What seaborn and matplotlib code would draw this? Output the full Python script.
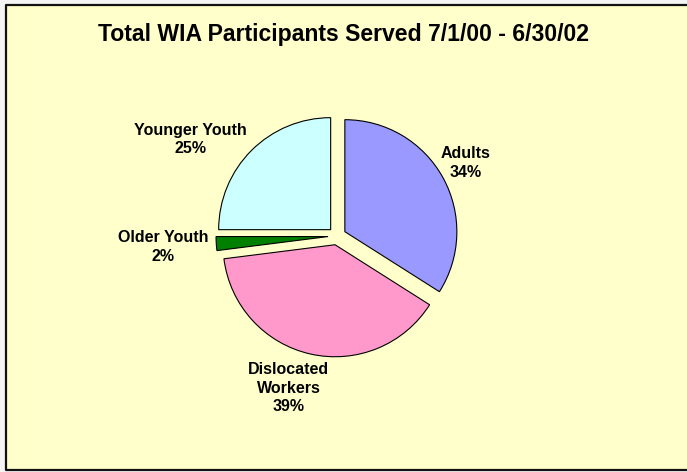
import matplotlib
matplotlib.use('Agg')
import matplotlib.pyplot as plt
import seaborn as sns
from matplotlib.patches import Rectangle
from matplotlib.lines import Line2D

categories = ['Adults', 'Dislocated\nWorkers', 'Older Youth', 'Younger Youth']
shares = [34, 39, 2, 25]
colors = ['#9999FF', '#FF99CC', '#008000', '#CCFFFF']
title = 'Total WIA Participants Served 7/1/00 - 6/30/02'
# label centres in pie units (radius = 1)
label_pos = [(1.15, 0.65), (-0.43, -1.36), (-1.55, -0.10), (-1.31, 0.86)]

sns.set_theme(style='white')
plt.rcParams['font.family'] = ['Liberation Sans', 'DejaVu Sans']
plt.rcParams['text.color'] = 'black'

W, H = 687, 472
fig = plt.figure(figsize=(W / 100, H / 100), dpi=100)
fig.patch.set_facecolor('#F4F4F4')
fig.patch.set_edgecolor('none')
fig.patch.set_linewidth(0)

# chart area: yellow fill, black frame on left / top / bottom (right edge cut off)
x0, x1, y0, y1 = 6 / W, 1.1, 2.5 / H, 1 - 5 / H
fig.patches.append(Rectangle((x0, y0), x1 - x0, y1 - y0, transform=fig.transFigure,
                             facecolor='#FFFFCC', edgecolor='none', zorder=-5))
fig.lines.append(Line2D([x1, x0, x0, x1], [y1, y1, y0, y0], transform=fig.transFigure,
                        color='#111111', lw=1.6, zorder=-4))

# pie centre at (337, 236) px, radius 112 px
cx, cy, half = 337, 236, 140
ax = fig.add_axes([(cx - half) / W, (H - cy - half) / H, 2 * half / W, 2 * half / H])
ax.set_zorder(2)
ax.set_facecolor('none')
ax.pie(shares, colors=colors, startangle=90, counterclock=False,
       explode=[0.08] * len(shares),
       wedgeprops=dict(edgecolor='black', linewidth=0.8))
ax.set_xlim(-1.25, 1.25)
ax.set_ylim(-1.25, 1.25)
ax.set_aspect('equal')
ax.axis('off')

for name, val, (x, y) in zip(categories, shares, label_pos):
    ax.text(x, y, f'{name}\n{val}%', ha='center', va='center', fontsize=11.5,
            fontweight='bold', linespacing=1.3, clip_on=False)

fig.text(343 / W, 1 - 35 / H, title, ha='center', va='center', fontsize=16.6,
         fontweight='bold')

fig.savefig('out.png', dpi=100, facecolor=fig.get_facecolor(), edgecolor='none')
